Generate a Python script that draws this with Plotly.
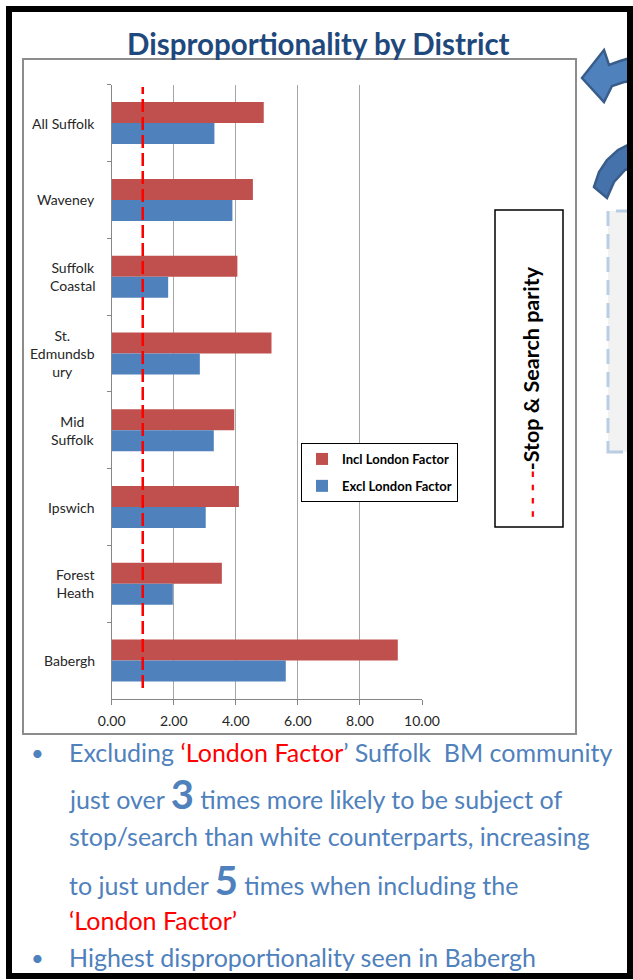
import plotly.graph_objects as go

# ---------------- data ----------------
districts = ["All Suffolk", "Waveney", "Suffolk<br>Coastal", "St.<br>Edmundsb<br>ury",
             "Mid<br>Suffolk", "Ipswich", "Forest<br>Heath", "Babergh"]
incl_london = [4.90, 4.55, 4.05, 5.15, 3.95, 4.10, 3.55, 9.22]
excl_london = [3.31, 3.89, 1.82, 2.84, 3.29, 3.03, 1.97, 5.61]
x_ticks = [0, 2, 4, 6, 8, 10]
parity = 1.0
series_names = ["Incl London Factor", "Excl London Factor"]
title_text = "Disproportionality by District"

W, H = 633, 980
RED, BLUE = "#C0504D", "#4F81BD"
TXT_BLUE = "#4F81BD"
FONT = "Lato"


def px(x):
    return x / W


def py(y):
    return 1 - y / H


def path(points, close=True):
    s = "M " + " L ".join(f"{px(x):.5f},{py(y):.5f}" for x, y in points)
    return s + (" Z" if close else "")


fig = go.Figure()
fig.add_trace(go.Bar(y=districts, x=incl_london, orientation="h", name=series_names[0],
                     marker=dict(color=RED, line=dict(width=0)), legendgroup="a"))
fig.add_trace(go.Bar(y=districts, x=excl_london, orientation="h", name=series_names[1],
                     marker=dict(color=BLUE, line=dict(width=0)), legendgroup="b"))

plot_l, plot_r, plot_t, plot_b = 111.7, 422, 84.7, 699

shapes = []
# chart area frame
shapes.append(dict(type="rect", xref="paper", yref="paper", x0=px(23), x1=px(576), y0=py(734), y1=py(59),
                   line=dict(color="#8C8C8C", width=2), layer="below"))
# parity line
shapes.append(dict(type="line", xref="x", yref="paper", x0=parity, x1=parity, y0=py(688), y1=py(87),
                   line=dict(color="#FF0000", width=2.5, dash="13px,5px"), layer="above"))
# dashed callout box at right edge
shapes.append(dict(type="rect", xref="paper", yref="paper", x0=px(608), x1=px(660), y0=py(452), y1=py(211),
                   fillcolor="#F2F2F2", line=dict(color="#B9CDE5", width=3, dash="15px,8px"), layer="below"))
# vertical text box
shapes.append(dict(type="rect", xref="paper", yref="paper", x0=px(495), x1=px(563), y0=py(527), y1=py(210),
                   fillcolor="white", line=dict(color="black", width=1.5), layer="below"))
# block arrow pointing left
arrow1 = [(582, 78), (604, 50), (609, 65), (620, 61), (640, 55), (640, 80), (624, 82), (612, 86), (604, 102)]
shapes.append(dict(type="path", xref="paper", yref="paper", path=path(arrow1),
                   fillcolor="#4F81BD", line=dict(color="#385D8A", width=2.5), layer="above"))
# curved arrow tail
arrow2 = [(594, 187), (599, 172), (607, 160), (618, 150), (640, 139), (640, 163), (625, 170), (614, 182), (607, 198)]
shapes.append(dict(type="path", xref="paper", yref="paper", path=path(arrow2),
                   fillcolor="#4672AC", line=dict(color="#385D8A", width=2.5), layer="above"))
# outer black frame (on top)
shapes.append(dict(type="rect", xref="paper", yref="paper", x0=px(9), x1=px(630), y0=py(976), y1=py(9),
                   line=dict(color="black", width=6), layer="above"))

annotations = []
# title
annotations.append(dict(xref="paper", yref="paper", x=px(318), y=py(44), text=f"<b>{title_text}</b>",
                        showarrow=False, xanchor="center", yanchor="middle",
                        font=dict(family=FONT, size=29.5, color="#1F497D")))
# category labels: right aligned block, centred lines
for d in districts:
    annotations.append(dict(xref="paper", yref="y", x=px(97), y=d, text=d, showarrow=False,
                            xanchor="right", yanchor="middle", align="center",
                            font=dict(family=FONT, size=14, color="#262626")))
# vertical parity label
annotations.append(dict(xref="paper", yref="paper", x=px(531), y=py(392), textangle=-90,
                        text="<span style='color:#FF0000'>- - - -</span>-Stop &amp; Search parity",
                        showarrow=False, xanchor="center", yanchor="middle",
                        font=dict(family=FONT, size=21.5, color="black", weight="bold")))

# bullet text
bul_font = dict(family=FONT, size=25, color=TXT_BLUE)
red = "#FF0000"
lines_txt = [
    (752, f"Excluding <span style='color:{red}'>‘London Factor</span>’ Suffolk  BM community"),
    (794, "just over <span style='font-size:40px'><b>3</b></span> times more likely to be subject of"),
    (836, "stop/search than white counterparts, increasing"),
    (880, "to just under <span style='font-size:40px'><b>5</b></span> times when including the"),
    (920, f"<span style='color:{red}'>‘London Factor’</span>"),
    (957, "Highest disproportionality seen in Babergh"),
]
for yy, t in lines_txt:
    annotations.append(dict(xref="paper", yref="paper", x=px(67), y=py(yy), text=t, showarrow=False,
                            xanchor="left", yanchor="middle", font=bul_font))
for yy in (752, 957):
    annotations.append(dict(xref="paper", yref="paper", x=px(37), y=py(yy), text="•", showarrow=False,
                            xanchor="center", yanchor="middle", font=dict(family=FONT, size=22, color=TXT_BLUE)))

fig.update_layout(
    width=W, height=H,
    margin=dict(l=0, r=0, t=0, b=0, pad=0, autoexpand=False),
    paper_bgcolor="white", plot_bgcolor="white",
    barmode="group", bargap=0.453, bargroupgap=0,
    font=dict(family=FONT, color="#262626"),
    showlegend=True,
    legend=dict(x=px(301), y=py(443), xanchor="left", yanchor="top",
                bordercolor="black", borderwidth=1, bgcolor="white",
                font=dict(family=FONT, size=13, color="black", weight="bold"),
                traceorder="grouped", tracegroupgap=7, itemwidth=30),
    xaxis=dict(domain=[px(plot_l), px(plot_r)], range=[0, 10], tickvals=x_ticks, tickformat=".2f",
               showgrid=True, gridcolor="#A6A6A6", gridwidth=1, zeroline=False,
               showline=True, linecolor="#868686", linewidth=1, automargin=False,
               ticks="outside", ticklen=5, tickcolor="#868686", ticklabelstandoff=4,
               tickfont=dict(family=FONT, size=14, color="#262626"), fixedrange=True),
    yaxis=dict(domain=[py(plot_b), py(plot_t)], type="category", categoryorder="array",
               categoryarray=districts, autorange="reversed", automargin=False,
               showticklabels=False, showgrid=False, zeroline=False,
               showline=True, linecolor="#868686", linewidth=1,
               ticks="outside", ticklen=4, tickcolor="#868686", tickson="boundaries", fixedrange=True),
    shapes=shapes, annotations=annotations,
)

fig.write_html("out.html", config={"displayModeBar": False},
               post_script="document.body.style.margin='0';")
